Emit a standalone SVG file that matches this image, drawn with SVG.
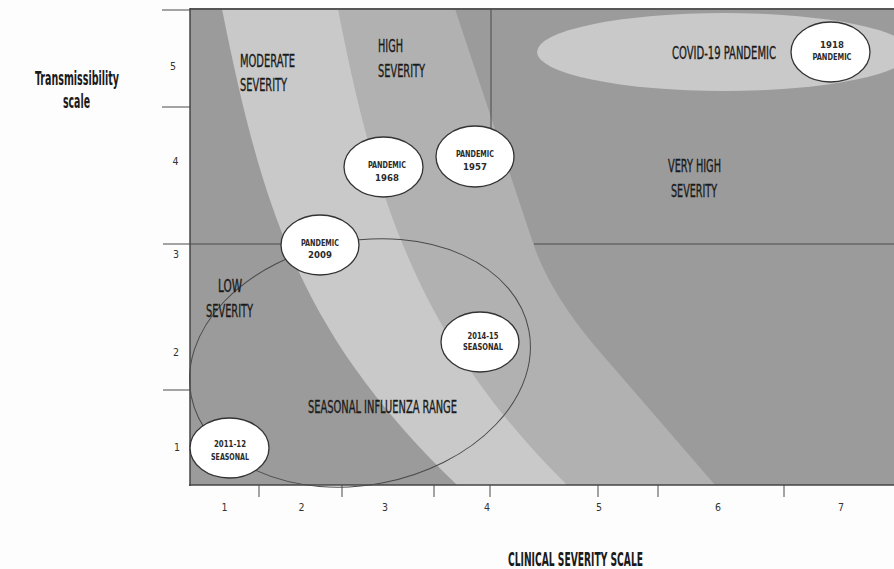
<svg xmlns="http://www.w3.org/2000/svg" width="894" height="569" viewBox="0 0 894 569">
<style>
text{font-family:"Liberation Sans Narrow","DejaVu Sans Condensed","Liberation Sans",Arial,sans-serif;fill:#1a1a1a;text-anchor:middle}
.big{font-size:18px;stroke:#1a1a1a;stroke-width:0.35}
.axt{font-size:19px;font-weight:bold}
.num{font-size:10.5px;fill:#333}
.nd{font-size:9.5px;font-weight:bold;fill:#2a2a2a}
.node{fill:#fff;stroke:#333;stroke-width:1.3}
.ln{stroke:#4a4a4a;stroke-width:1;fill:none}
</style>
<rect x="0" y="0" width="894" height="569" fill="#fdfdfd"/>
<g id="bands">
<rect x="190" y="9" width="704" height="476" fill="#9b9b9b"/>
<path d="M190,9 L455,9 L532,240 Q548,290 594,345 L715,485 L190,485 Z" fill="#b1b1b1"/>
<path d="M190,9 L338,9 C375,200 420,340 567,485 L190,485 Z" fill="#c9c9c9"/>
<path d="M190,9 L222,9 C262,209 301,335 457,485 L190,485 Z" fill="#9b9b9b"/>
<ellipse cx="724" cy="52" rx="187" ry="39" fill="#c9c9c9"/>
</g>
<g id="axes">
<line x1="190" y1="9" x2="894" y2="9" stroke="#555" stroke-width="2"/>
<line x1="190" y1="8" x2="190" y2="486" stroke="#444" stroke-width="1.5"/>
<line x1="189" y1="485" x2="894" y2="485" stroke="#444" stroke-width="1.5"/>
<line class="ln" x1="162" y1="10" x2="190" y2="10"/>
<line class="ln" x1="162" y1="107" x2="190" y2="107"/>
<line class="ln" x1="163" y1="244" x2="282" y2="244"/>
<line class="ln" x1="534" y1="244" x2="894" y2="244"/>
<line class="ln" x1="163" y1="390" x2="190" y2="390"/>
<line class="ln" x1="491" y1="9" x2="491" y2="129"/>
<line class="ln" x1="259" y1="485" x2="259" y2="497"/>
<line class="ln" x1="342" y1="485" x2="342" y2="497"/>
<line class="ln" x1="434" y1="485" x2="434" y2="497"/>
<line class="ln" x1="490" y1="485" x2="490" y2="497"/>
<line class="ln" x1="598" y1="485" x2="598" y2="497"/>
<line class="ln" x1="658" y1="485" x2="658" y2="497"/>
<line class="ln" x1="784" y1="485" x2="784" y2="497"/>
<ellipse id="seasonal-range" cx="360" cy="363" rx="172" ry="122" transform="rotate(-11 360 363)" class="ln" stroke="#3a3a3a"/>
</g>
<g id="labels">
<text class="big" x="267.5" y="67" textLength="55" lengthAdjust="spacingAndGlyphs">MODERATE</text>
<text class="big" x="263.5" y="91" textLength="47" lengthAdjust="spacingAndGlyphs">SEVERITY</text>
<text class="big" x="390.5" y="52" textLength="25" lengthAdjust="spacingAndGlyphs">HIGH</text>
<text class="big" x="401.5" y="77" textLength="47" lengthAdjust="spacingAndGlyphs">SEVERITY</text>
<text class="big" x="724" y="58.5" textLength="104" lengthAdjust="spacingAndGlyphs">COVID-19 PANDEMIC</text>
<text class="big" x="694.5" y="172" textLength="53" lengthAdjust="spacingAndGlyphs">VERY HIGH</text>
<text class="big" x="694" y="197" textLength="46" lengthAdjust="spacingAndGlyphs">SEVERITY</text>
<text class="big" x="230" y="292" textLength="24" lengthAdjust="spacingAndGlyphs">LOW</text>
<text class="big" x="229.5" y="317" textLength="47" lengthAdjust="spacingAndGlyphs">SEVERITY</text>
<text class="big" x="382.5" y="413" textLength="149" lengthAdjust="spacingAndGlyphs">SEASONAL INFLUENZA RANGE</text>
<text class="axt" x="77" y="85" textLength="84" lengthAdjust="spacingAndGlyphs">Transmissibility</text>
<text class="axt" x="76.5" y="108" textLength="27" lengthAdjust="spacingAndGlyphs">scale</text>
<text class="axt" x="575.5" y="566" textLength="135" lengthAdjust="spacingAndGlyphs">CLINICAL SEVERITY SCALE</text>
<text class="num" x="173" y="70">5</text>
<text class="num" x="175.5" y="165">4</text>
<text class="num" x="176" y="258">3</text>
<text class="num" x="176" y="356">2</text>
<text class="num" x="177" y="450.5">1</text>
<text class="num" x="224.5" y="511">1</text>
<text class="num" x="301.5" y="511">2</text>
<text class="num" x="385" y="511">3</text>
<text class="num" x="487" y="511">4</text>
<text class="num" x="599" y="511">5</text>
<text class="num" x="718" y="511">6</text>
<text class="num" x="841" y="511">7</text>
</g>
<g id="node-2009">
<ellipse class="node" cx="320" cy="245" rx="39" ry="30"/>
<text class="nd" x="320" y="245.5" textLength="38" lengthAdjust="spacingAndGlyphs">PANDEMIC</text>
<text class="nd" x="320" y="258">2009</text>
</g>
<g id="node-1968">
<ellipse class="node" cx="383.5" cy="167" rx="39.5" ry="30"/>
<text class="nd" x="387" y="168" textLength="38" lengthAdjust="spacingAndGlyphs">PANDEMIC</text>
<text class="nd" x="387" y="181">1968</text>
</g>
<g id="node-1957">
<ellipse class="node" cx="475" cy="156.5" rx="39" ry="30.5"/>
<text class="nd" x="475" y="157" textLength="38" lengthAdjust="spacingAndGlyphs">PANDEMIC</text>
<text class="nd" x="475" y="170">1957</text>
</g>
<g id="node-1918">
<ellipse class="node" cx="830.5" cy="52" rx="39.5" ry="30"/>
<text class="nd" x="832" y="48">1918</text>
<text class="nd" x="832" y="59.5" textLength="39" lengthAdjust="spacingAndGlyphs">PANDEMIC</text>
</g>
<g id="node-2014-15">
<ellipse class="node" cx="480" cy="342" rx="39" ry="30"/>
<text class="nd" x="483" y="339" textLength="31" lengthAdjust="spacingAndGlyphs">2014-15</text>
<text class="nd" x="483" y="349.5" textLength="40" lengthAdjust="spacingAndGlyphs">SEASONAL</text>
</g>
<g id="node-2011-12">
<ellipse class="node" cx="229.5" cy="448" rx="39.5" ry="30"/>
<text class="nd" x="230" y="447" textLength="32" lengthAdjust="spacingAndGlyphs">2011-12</text>
<text class="nd" x="230" y="459.5" textLength="38" lengthAdjust="spacingAndGlyphs">SEASONAL</text>
</g>
</svg>
